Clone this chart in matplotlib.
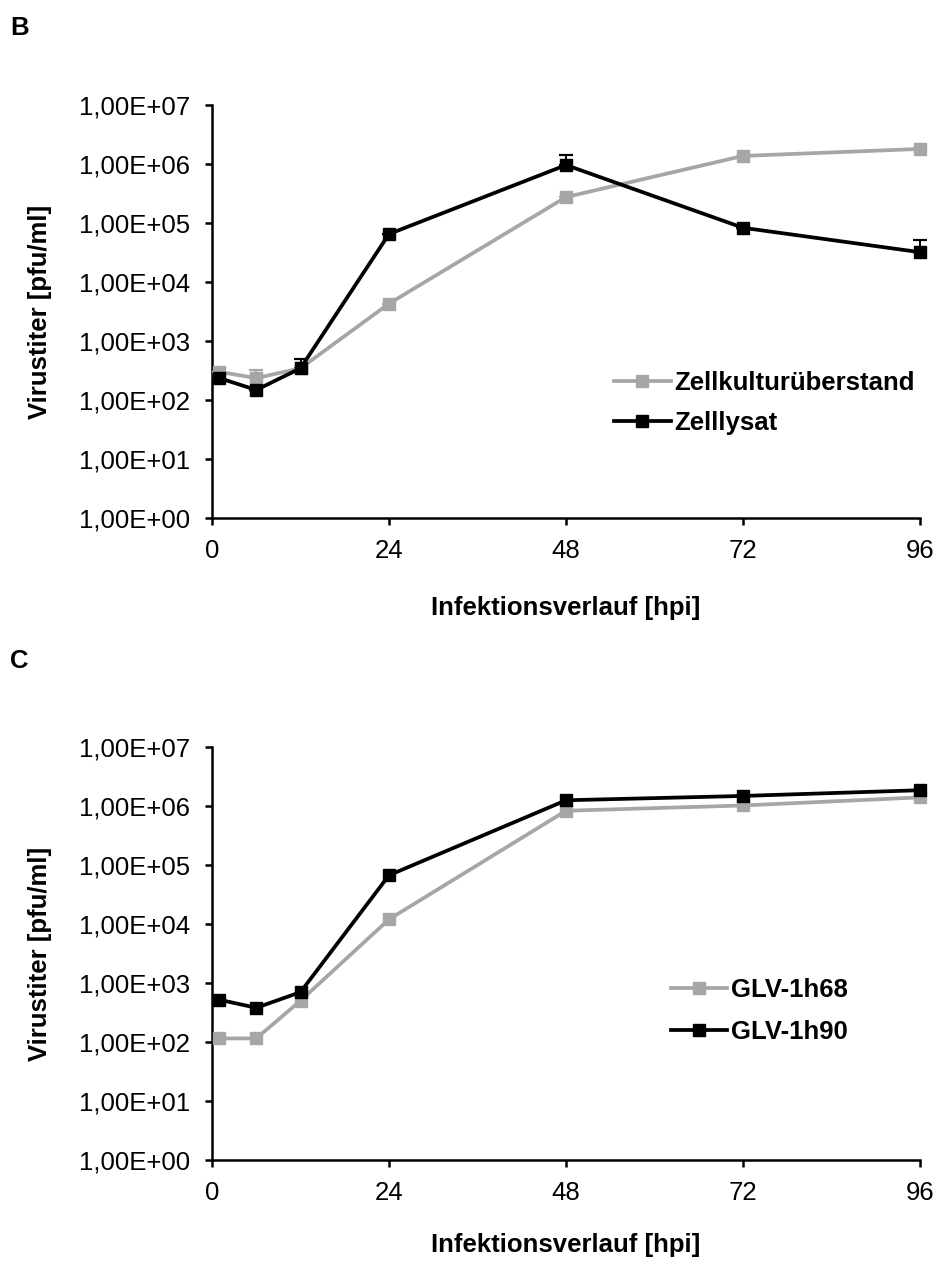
import matplotlib
matplotlib.use("Agg")
import matplotlib.pyplot as plt
from matplotlib.lines import Line2D
import numpy as np

plt.rcParams['font.family'] = ['Liberation Sans', 'DejaVu Sans']

# ---- data ----
hours = [1, 6, 12, 24, 48, 72, 96]
xticks = [0, 24, 48, 72, 96]
ytick_vals = [1e0, 1e1, 1e2, 1e3, 1e4, 1e5, 1e6, 1e7]
ytick_labels = ["1,00E+00", "1,00E+01", "1,00E+02", "1,00E+03",
                "1,00E+04", "1,00E+05", "1,00E+06", "1,00E+07"]

# Panel B
b_names = ["Zellkulturüberstand", "Zelllysat"]
b_ueberstand = [300, 235, 345, 4300, 2.75e5, 1.37e6, 1.8e6]
b_ueberstand_err = [0, 90, 0, 0, 0, 0, 0]
b_lysat = [235, 148, 345, 6.5e4, 9.6e5, 8.3e4, 3.2e4]
b_lysat_err = [0, 0, 150, 0, 4.5e5, 0, 1.9e4]

# Panel C
c_names = ["GLV-1h68", "GLV-1h90"]
c_1h68 = [115, 115, 500, 1.2e4, 8.3e5, 1.02e6, 1.4e6]
c_1h90 = [520, 380, 700, 6.7e4, 1.25e6, 1.48e6, 1.85e6]

GRAY = '#A6A6A6'
BLACK = '#000000'
FS = 18.5

fig = plt.figure(figsize=(9.36, 12.65), dpi=100)

def style_axes(ax, xlabelpad):
    ax.set_yscale('log')
    ax.set_xlim(0, 96)
    ax.set_ylim(1, 1e7)
    ax.set_xticks(xticks)
    ax.set_xticklabels([str(t) for t in xticks], fontsize=FS)
    ax.set_yticks(ytick_vals)
    ax.set_yticklabels(ytick_labels, fontsize=FS)
    ax.yaxis.set_minor_locator(matplotlib.ticker.NullLocator())
    for s in ['top', 'right']:
        ax.spines[s].set_visible(False)
    for s in ['left', 'bottom']:
        ax.spines[s].set_linewidth(1.8)
    ax.tick_params(direction='out', length=5, width=1.8)
    ax.tick_params(axis='y', pad=11)
    ax.tick_params(axis='x', pad=10)
    ax.set_xlabel("Infektionsverlauf [hpi]", fontsize=FS, fontweight='bold', labelpad=xlabelpad)
    ax.set_ylabel("Virustiter [pfu/ml]", fontsize=FS, fontweight='bold', labelpad=19)

def plot_series(ax, y, err, color):
    ax.errorbar(hours, y, yerr=[np.zeros(len(y)), err] if err is not None else None,
                color=color, lw=2.7, marker='s', ms=9, mfc=color, mec=color,
                ecolor=color, elinewidth=1.4,
                capsize=5, capthick=1.6, clip_on=False, zorder=3)

def legend_handles(colors):
    return [Line2D([], [], color=c, lw=2.7, marker='s', ms=8, mfc=c, mec=c) for c in colors]

def add_legend(ax, names, anchor, spacing):
    ax.legend(legend_handles([GRAY, BLACK]), names, loc='center left',
              bbox_to_anchor=anchor, frameon=False,
              prop={'size': FS, 'weight': 'bold'}, handlelength=2.2, handletextpad=0.15,
              labelspacing=spacing, borderaxespad=0, borderpad=0)

axB = fig.add_axes([0.2265, 0.5905, 0.7564, 0.3265])
plot_series(axB, b_ueberstand, b_ueberstand_err, GRAY)
plot_series(axB, b_lysat, b_lysat_err, BLACK)
style_axes(axB, 24)
add_legend(axB, b_names, (0.568, (518 - 403) / 413), 0.6)

axC = fig.add_axes([0.2265, 0.083, 0.7564, 0.3265])
plot_series(axC, c_1h68, None, GRAY)
plot_series(axC, c_1h90, None, BLACK)
style_axes(axC, 20)
add_legend(axC, c_names, (0.648, (1160 - 1011) / 413), 0.72)

fig.text(10/936, 1 - 28/1265, "B", fontsize=FS, fontweight='bold', va='center', ha='left')
fig.text(10/936, 1 - 661/1265, "C", fontsize=FS, fontweight='bold', va='center', ha='left')

fig.savefig("out.png", dpi=100)
